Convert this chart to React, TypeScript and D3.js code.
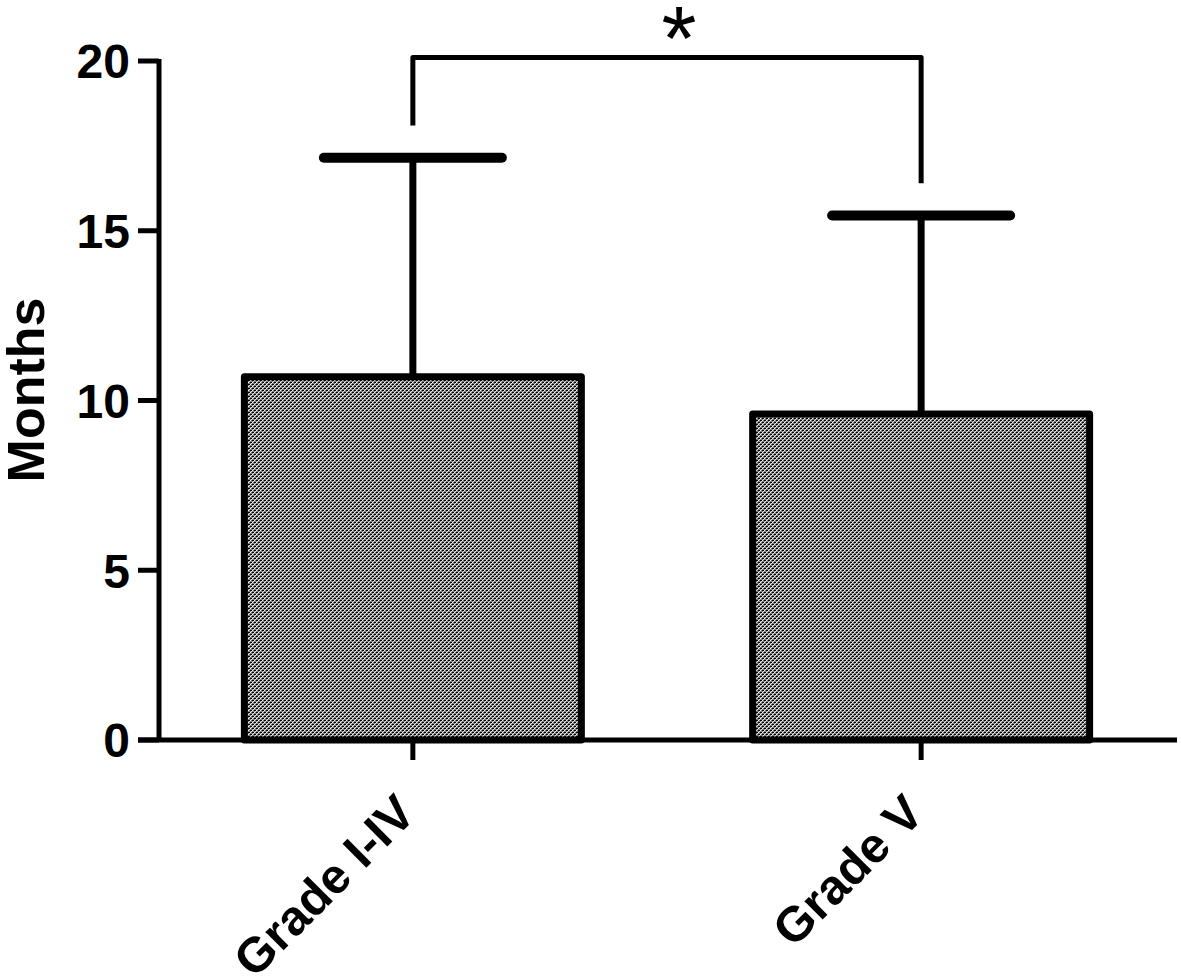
import * as d3 from "d3";

const categories = ["Grade I-IV", "Grade V"];
const means = [10.7, 9.6];
const errorTops = [17.15, 15.45];
const yTicks = [0, 5, 10, 15, 20];
const sigLabel = "*";
const bracketLegEnds = [18.1, 16.4];
const bracketLevel = 20.1;

const W = 1181;
const H = 978;
const font = "'Liberation Sans', Arial, sans-serif";

export default function App() {
  const y = d3.scaleLinear().domain([0, 20]).range([740, 61]);
  const x = d3
    .scaleBand<string>()
    .domain(categories)
    .range([160, 1174])
    .paddingInner(0.337)
    .paddingOuter(0.166);
  const bw = x.bandwidth();
  const cx = (c: string) => (x(c) ?? 0) + bw / 2;
  const capHalf = 89;

  return (
    <svg
      width={W}
      height={H}
      style={{ position: "absolute", left: 0, top: 0, background: "#fff" }}
    >
      <defs>
        <pattern id="dots" width="4" height="4" patternUnits="userSpaceOnUse">
          <rect width="4" height="4" fill="#7e7e7e" shapeRendering="crispEdges" />
          <rect x="0" y="0" width="2" height="1" fill="#000" shapeRendering="crispEdges" />
          <rect x="2" y="2" width="2" height="1" fill="#000" shapeRendering="crispEdges" />
          <rect x="2" y="0" width="1" height="1" fill="#fff" shapeRendering="crispEdges" />
          <rect x="0" y="2" width="1" height="1" fill="#fff" shapeRendering="crispEdges" />
          <rect x="1" y="1" width="1" height="1" fill="#e8e8e8" shapeRendering="crispEdges" />
          <rect x="3" y="3" width="1" height="1" fill="#e8e8e8" shapeRendering="crispEdges" />
        </pattern>
      </defs>

      {/* error bars (drawn first so bars cover the lower part) */}
      {categories.map((c, i) => (
        <g key={"err" + c} stroke="#000" strokeLinecap="round">
          <line x1={cx(c)} x2={cx(c)} y1={y(means[i])} y2={y(errorTops[i])} strokeWidth={7} />
          <line
            x1={cx(c) - capHalf}
            x2={cx(c) + capHalf}
            y1={y(errorTops[i])}
            y2={y(errorTops[i])}
            strokeWidth={10}
          />
        </g>
      ))}

      {/* bars */}
      {categories.map((c, i) => (
        <rect
          key={c}
          x={x(c)}
          y={y(means[i])}
          width={bw}
          height={y(0) - y(means[i])}
          fill="url(#dots)"
          stroke="#000"
          strokeWidth={7}
          strokeLinejoin="round"
        />
      ))}

      {/* y axis */}
      <line x1={159} x2={159} y1={y(20) - 2} y2={y(0)} stroke="#000" strokeWidth={5} />
      {yTicks.map((t) => (
        <g key={t}>
          <line x1={138} x2={159} y1={y(t)} y2={y(t)} stroke="#000" strokeWidth={5} />
          <text
            x={130}
            y={y(t)}
            dy="0.36em"
            textAnchor="end"
            fontFamily={font}
            fontWeight="bold"
            fontSize={48}
          >
            {t}
          </text>
        </g>
      ))}
      <text
        transform={`translate(44, 390) rotate(-90)`}
        textAnchor="middle"
        fontFamily={font}
        fontWeight="bold"
        fontSize={52}
      >
        Months
      </text>

      {/* x axis */}
      <line x1={138} x2={1177} y1={y(0)} y2={y(0)} stroke="#000" strokeWidth={5} />
      {categories.map((c) => (
        <g key={"xt" + c}>
          <line x1={cx(c)} x2={cx(c)} y1={y(0)} y2={760} stroke="#000" strokeWidth={5} />
          <text
            transform={`translate(${cx(c) + 5}, 816) rotate(-45)`}
            textAnchor="end"
            fontFamily={font}
            fontWeight="bold"
            fontSize={49}
          >
            {c}
          </text>
        </g>
      ))}

      {/* significance bracket */}
      <path
        d={`M${cx(categories[0])},${y(bracketLegEnds[0])} V${y(bracketLevel)} H${cx(
          categories[1]
        )} V${y(bracketLegEnds[1])}`}
        fill="none"
        stroke="#000"
        strokeWidth={5}
        strokeLinejoin="round"
      />
      <text
        x={(cx(categories[0]) + cx(categories[1])) / 2 + 12}
        y={70}
        textAnchor="middle"
        fontFamily={font}
        fontSize={90}
      >
        {sigLabel}
      </text>
    </svg>
  );
}
